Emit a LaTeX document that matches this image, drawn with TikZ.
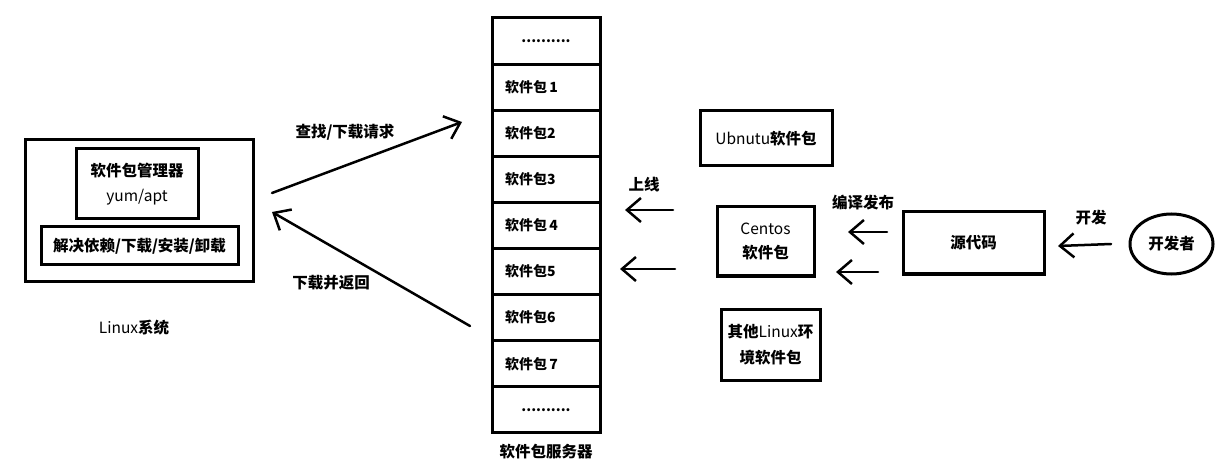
\documentclass[tikz,border=0pt]{standalone}
\usepackage{fontspec}
\setmainfont{Noto Sans CJK SC}
\usetikzlibrary{arrows.meta,positioning,shapes.geometric}

\begin{document}
\begin{tikzpicture}[x=1pt,y=-1pt, every node/.style={font=\bfseries\fontsize{15.5}{18}\selectfont,align=center}, box/.style={draw,line width=3pt,inner sep=0pt}, cell/.style={draw,line width=3pt,minimum height=46.1pt,inner xsep=13pt,text width=82pt,font=\bfseries\fontsize{14}{16}\selectfont}, arr/.style={-{Straight Barb[length=14pt,width=24pt]},line width=2.5pt,line cap=round}]
  \useasboundingbox (0,0) rectangle (1220,470);
  % Linux side
  \node[box,minimum width=228pt,minimum height=141pt] (linux) at (139,210.5) {};
  \node[box,minimum width=122pt,minimum height=70pt] (mgr) at (137,184) {软件包管理器\\[7pt]\mdseries yum/apt};
  \node[box,minimum width=197pt,minimum height=38pt] (dep) at (139.5,246) {解决依赖/下载/安装/卸载};
  \node (linuxlabel) at (134,328) {\mdseries Linux\bfseries 系统};
  % package server column
  \node[cell,align=center] (pkg0) at (546,41.05) {..........};
  \foreach \i/\txt in {1/{软件包\,1},2/{软件包2},3/{软件包3},4/{软件包\,4},5/{软件包5},6/{软件包6},7/{软件包\,7}}
    \node[cell,align=left] (pkg\i) at (546,{41.05+46.1*\i}) {\txt};
  \node[cell,align=center] (pkg8) at (546,{41.05+46.1*8}) {..........};
  \node (srvlabel) at (546,452) {软件包服务器};
  % distribution packages
  \node[box,minimum width=132pt,minimum height=55pt] (ubuntu) at (766,138.5) {\mdseries Ubnutu\bfseries 软件包};
  \node[box,minimum width=97pt,minimum height=69pt] (centos) at (765.5,241.5) {\mdseries Centos\\[6pt]\bfseries 软件包};
  \node[box,minimum width=99pt,minimum height=71pt] (other) at (770.5,344.5) {其他\mdseries Linux\bfseries 环\\[8pt]境软件包};
  \node[box,minimum width=141pt,minimum height=62pt] (src) at (973.5,243) {源代码};
  \node[ellipse,draw,line width=3pt,minimum width=83pt,minimum height=60pt,inner sep=0pt] (dev) at (1171.5,244) {开发者};
  % arrow ends
  \coordinate (reqA) at (272,193);
  \coordinate (reqB) at (462,122);
  \coordinate (retA) at (470,326);
  \coordinate (retB) at (272,212);
  \coordinate (upA1) at (673,210);
  \coordinate (upB1) at (625,210);
  \coordinate (upA2) at (675,269);
  \coordinate (upB2) at (620,269);
  \coordinate (pubA1) at (887,232);
  \coordinate (pubB1) at (848,232);
  \coordinate (pubA2) at (878,272);
  \coordinate (pubB2) at (836,272);
  \coordinate (devA) at (1111,244);
  \coordinate (devB) at (1058,246);
  \draw[arr] (reqA) -- (reqB);
  \draw[arr] (retA) -- (retB);
  \draw[arr] (upA1) -- (upB1);
  \draw[arr] (upA2) -- (upB2);
  \draw[arr] (pubA1) -- (pubB1);
  \draw[arr] (pubA2) -- (pubB2);
  \draw[arr] (devA) -- (devB);
  % labels
  \node (reqlabel) at (345,132) {查找/下载请求};
  \node (retlabel) at (331,283) {下载并返回};
  \node (uplabel) at (644,185) {上线};
  \node (publabel) at (863,203) {编译发布};
  \node (devlabel) at (1091,218) {开发};
\end{tikzpicture}
\end{document}
